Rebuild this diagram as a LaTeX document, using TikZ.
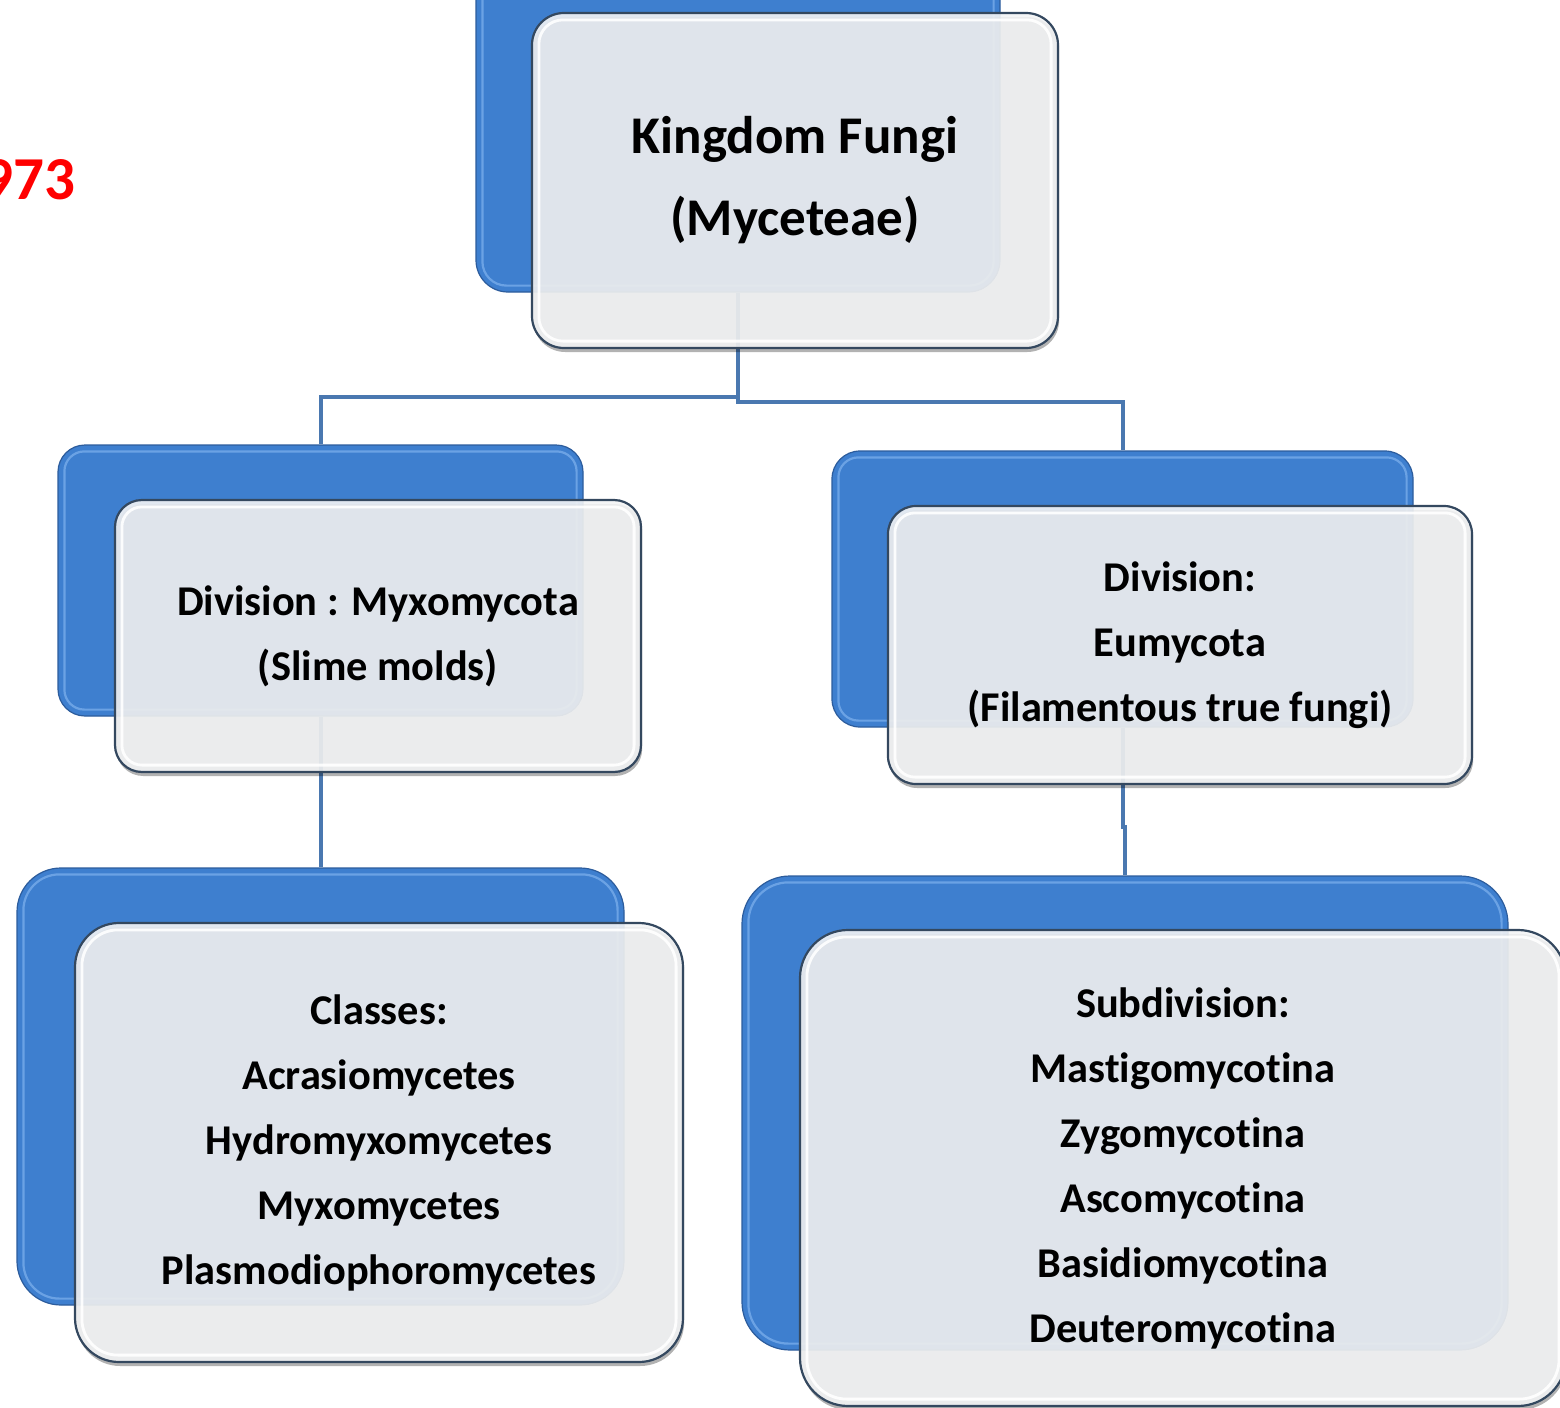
\documentclass[tikz,border=0pt]{standalone}
\usepackage{fontspec}
\setmainfont{Carlito}[Ligatures=NoCommon]
\usetikzlibrary{shadows}
\definecolor{bblue}{HTML}{3E7FCF}
\definecolor{bdark}{HTML}{2C5C9C}
\definecolor{bhl}{HTML}{7FB2EE}
\definecolor{ffill}{HTML}{F3F4F5}
\definecolor{fdark}{HTML}{34485F}
\definecolor{conncol}{HTML}{4A78B0}
\definecolor{redtxt}{HTML}{FF0000}
\tikzset{
  backbox/.style={draw=bdark, line width=0.6pt, fill=bblue, rounded corners=#1, inner sep=0pt},
  frontbox/.style={draw=fdark, line width=1.1pt, fill=ffill, fill opacity=0.9, text opacity=1,
    rounded corners=#1, inner sep=0pt, align=center, font=\bfseries\fontsize{21.2}{32.5}\selectfont,
    drop shadow={shadow xshift=0.6pt, shadow yshift=-2pt, opacity=0.3, fill=black}},
  backhl/.style={draw=bhl, line width=1.1pt, opacity=0.7, rounded corners=#1},
  fronthl/.style={draw=white, line width=1.4pt, opacity=0.9, rounded corners=#1},
  conn/.style={draw=conncol, line width=2pt},
}
\begin{document}
\begin{tikzpicture}[x=0.5pt, y=-0.5pt]
\useasboundingbox (0,0) rectangle (1560,1408);

% back (blue) boxes
\node[backbox=16pt, minimum width=262pt, minimum height=167.5pt] (topb) at (738,124.5) {};
\node[backbox=13.5pt, minimum width=262.5pt, minimum height=135.5pt] (ldivb) at (320.5,580.5) {};
\node[backbox=14pt, minimum width=290.5pt, minimum height=138pt] (rdivb) at (1122.5,589) {};
\node[backbox=22pt, minimum width=303.5pt, minimum height=218.5pt] (lbotb) at (320.5,1086.5) {};
\node[backbox=24pt, minimum width=383pt, minimum height=237pt] (rbotb) at (1125,1113) {};

% connectors
\draw[conn] (topb.south) -- ++(0,104) -| (ldivb.north);
\draw[conn] (topb.south) -- ++(0,109) -| (rdivb.north);
\draw[conn] (ldivb.south) -- (lbotb.north);
\draw[conn] (rdivb.south) -- ++(0,99) -| (rbotb.north);

% highlights on back boxes
\foreach \b/\r in {topb/12pt, ldivb/10pt, rdivb/10pt, lbotb/18pt, rbotb/20pt}{
  \draw[backhl=\r] ([shift={(7,7)}]\b.north west) rectangle ([shift={(-7,-7)}]\b.south east);
}

% front boxes
\node[frontbox=16pt, minimum width=263pt, minimum height=167.5pt, font=\bfseries\fontsize{26.5}{41}\selectfont] (topf) at (795,180.5)
  {Kingdom Fungi\\(Myceteae)};
\node[frontbox=13.5pt, minimum width=263pt, minimum height=136pt] (ldivf) at (378,636)
  {Division : Myxomycota\\(Slime molds)};
\node[frontbox=14pt, minimum width=292pt, minimum height=139pt] (rdivf) at (1180,645)
  {Division:\\Eumycota\\(Filamentous true fungi)};
\node[frontbox=22pt, minimum width=304pt, minimum height=219.5pt] (lbotf) at (379,1142.5)
  {Classes:\\Acrasiomycetes\\Hydromyxomycetes\\Myxomycetes\\Plasmodiophoromycetes};
\node[frontbox=24pt, minimum width=383pt, minimum height=238pt] (rbotf) at (1183,1168)
  {Subdivision:\\Mastigomycotina\\Zygomycotina\\Ascomycotina\\Basidiomycotina\\Deuteromycotina};

\foreach \b/\r in {topf/12pt, ldivf/10pt, rdivf/10pt, lbotf/18pt, rbotf/20pt}{
  \draw[fronthl=\r] ([shift={(8,8)}]\b.north west) rectangle ([shift={(-8,-8)}]\b.south east);
}

% red year
\node[anchor=base east, inner sep=0pt, text=redtxt, font=\bfseries\fontsize{30.5}{36}\selectfont] (year) at (76,199) {973};
\end{tikzpicture}
\end{document}
